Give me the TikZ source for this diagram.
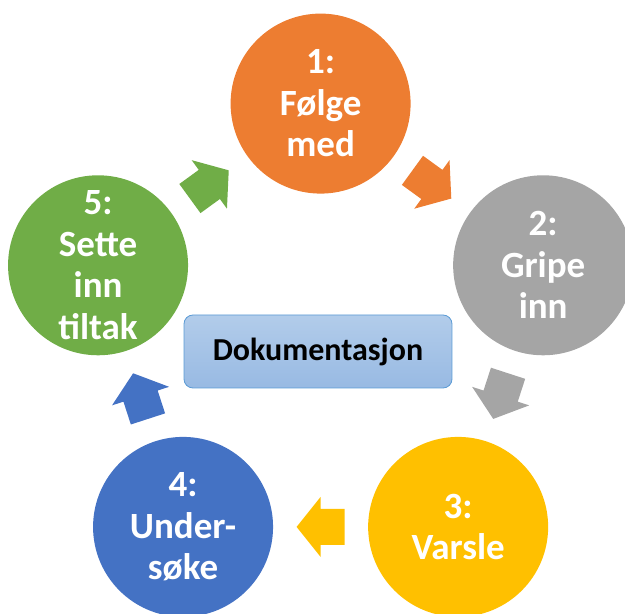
\documentclass[tikz,border=0pt]{standalone}
\usepackage{fontspec}
\setmainfont{Carlito}
\usetikzlibrary{calc}
\definecolor{cOrange}{HTML}{ED7D31}
\definecolor{cGray}{HTML}{A5A5A5}
\definecolor{cYellow}{HTML}{FFC000}
\definecolor{cBlue}{HTML}{4472C4}
\definecolor{cGreen}{HTML}{70AD47}
\definecolor{docTop}{RGB}{178,204,234}
\definecolor{docBottom}{RGB}{152,186,227}
\definecolor{docLine}{RGB}{91,155,213}

\begin{document}
\begin{tikzpicture}[x=1pt,y=1pt,
  stage/.style={circle, minimum size=180pt, inner sep=0pt, text=white,
    align=center, font=\bfseries\fontsize{37}{41.5}\selectfont},
  docbox/.style={draw=docLine, line width=0.8pt, rounded corners=9pt,
    top color=docTop, bottom color=docBottom, minimum width=268pt,
    minimum height=73pt, font=\bfseries\fontsize{32}{36}\selectfont}]
  \useasboundingbox (0,0) rectangle (625,614);
  \clip (0,0) rectangle (625,614);
  \coordinate (c) at (320.6,276.4);
  \foreach[count=\i] \a/\col/\txt in {90/cOrange/{1:\\Følge\\med},
      18/cGray/{2:\\Gripe\\inn}, -54/cYellow/{3:\\Varsle},
      -126/cBlue/{4:\\Under-\\søke}, 162/cGreen/{5:\\Sette\\inn\\tiltak}}{
    \node[stage, fill=\col] (s\i) at ($(c)+(\a:234)$) {\txt};
  }
  \foreach \a/\b/\ang/\col in {5/1/36/cGreen, 1/2/-36/cOrange, 2/3/-108/cGray,
      3/4/180/cYellow, 4/5/108/cBlue}{
    \fill[\col, shift={($(s\a)!0.5!(s\b)$)}, rotate=\ang]
      (-24,-18) -- (0,-18) -- (0,-30) -- (24,0) -- (0,30) -- (0,18) -- (-24,18) -- cycle;
  }
  \node[docbox] (doc) at (318,262.5) {Dokumentasjon};
\end{tikzpicture}
\end{document}
